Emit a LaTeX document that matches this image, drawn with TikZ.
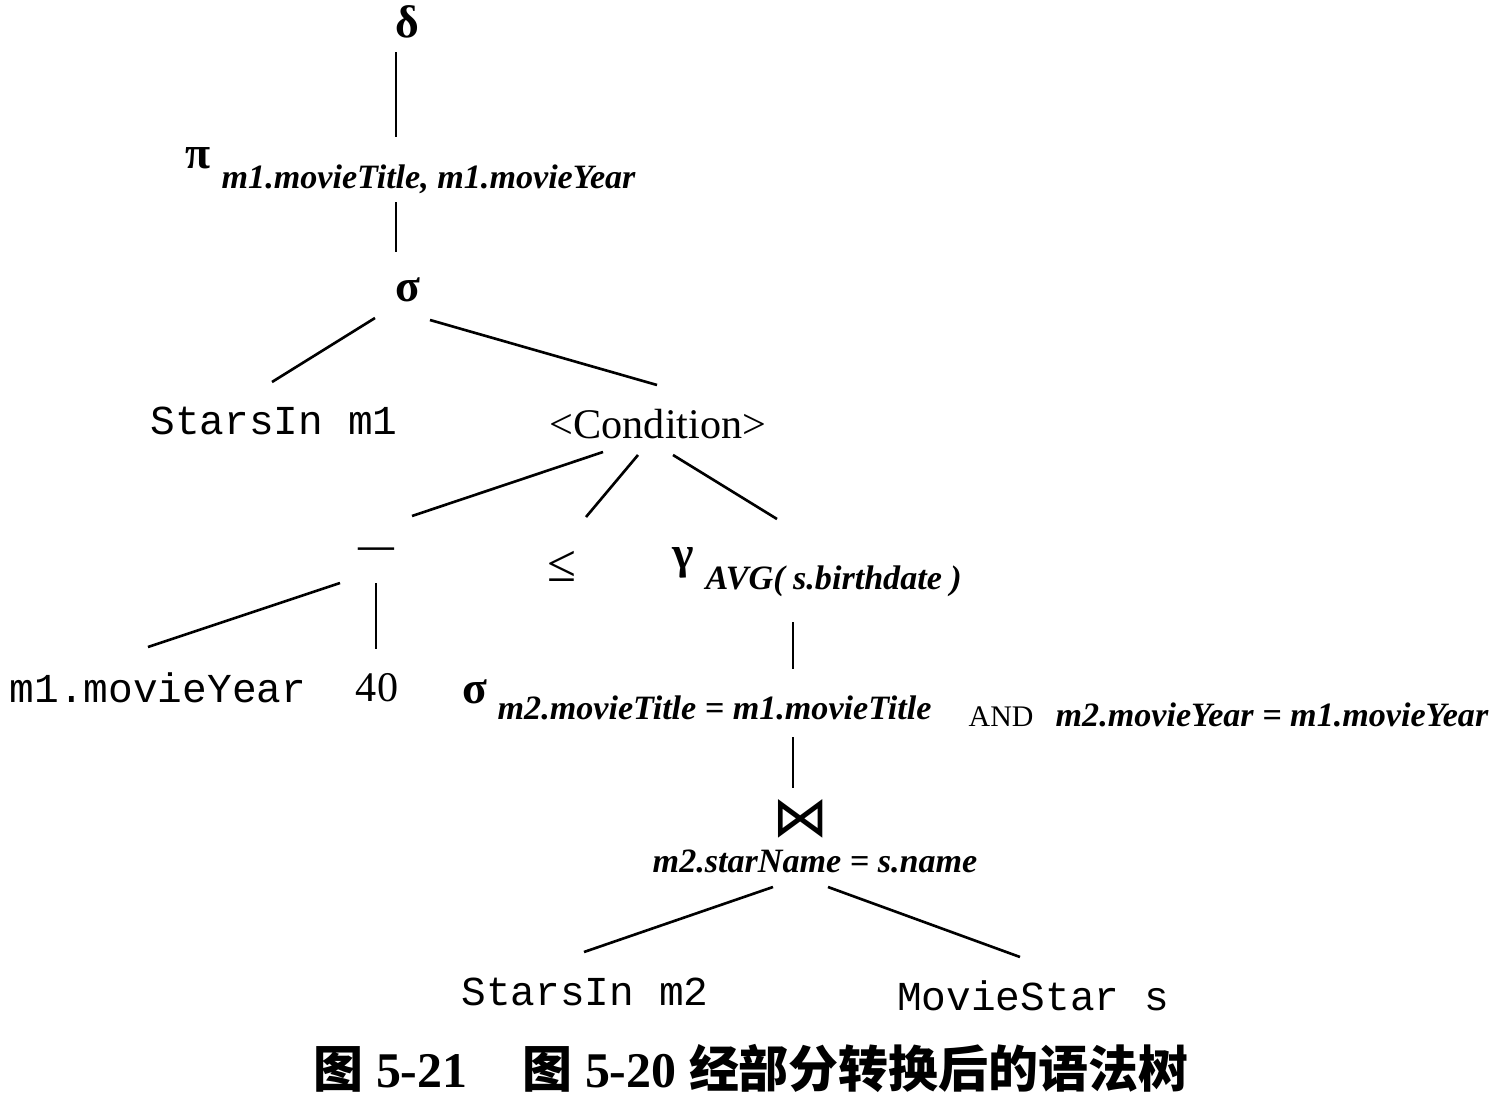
\documentclass[tikz,border=0pt]{standalone}
\usepackage{fontspec}
\setmainfont{Liberation Serif}
\setmonofont{Liberation Mono}
\newfontfamily\cjk{Noto Sans CJK SC}
\newfontfamily\djv{DejaVu Sans}
\usetikzlibrary{calc}

\begin{document}
\begin{tikzpicture}[x=0.01cm, y=-0.01cm,
	rel/.style={inner sep=0, font=\fontsize{11.7}{14}\selectfont\ttfamily},
	op/.style={inner sep=0, font=\fontsize{13}{15}\selectfont\bfseries},
	sub/.style={inner sep=0, anchor=base west, font=\fontsize{9.7}{12}\selectfont\bfseries\itshape},
	txt/.style={inner sep=0, font=\fontsize{12}{14}\selectfont},
	edge/.style={line width=0.75pt}]
	\useasboundingbox (0,0) rectangle (1502,1100);

	% upper part of the tree
	\node[op] (delta) at (407,22) {δ};
	\node[op] (pi) at (198,158) {π};
	\node[sub] (piSub) at (221,188) {m1.movieTitle, m1.movieYear};
	\node[op] (sigma) at (408,290) {σ};
	\node[rel] (sA) at (274,421) {StarsIn m1};
	\node[txt] (cond) at (658,424) {<Condition>};

	% the condition
	\node[txt, anchor=base, font=\fontsize{10.2}{12}\selectfont\bfseries] (minus) at (376,557) {—};
	\node[txt, font=\fontsize{15}{17}\selectfont] (leq) at (562,566) {≤};
	\node[op] (gamma) at (683,563) {γ};
	\node[sub] (gammaSub) at (705,589) {AVG( s.birthdate )};
	\node[rel] (m1y) at (158,688) {m1.movieYear};
	\node[txt] (forty) at (377,688) {40};
	\node[op] (sigmaB) at (475,692) {σ};
	\node[sub] (sigmaBSub) at (497,719) {m2.movieTitle = m1.movieTitle};
	\node[txt, anchor=base west, font=\fontsize{8.5}{10}\selectfont] (and) at (968,726) {AND};
	\node[sub] (yearSub) at (1055,726) {m2.movieYear = m1.movieYear};
	\node[txt, font=\fontsize{16}{18}\selectfont\djv] (join) at (801,819) {⋈};
	\node[sub, anchor=base] (joinSub) at (815,872) {m2.starName = s.name};
	\node[rel] (sB) at (585,992) {StarsIn m2};
	\node[rel] (ms) at (1033,996) {MovieStar s};

	\node[txt, font=\fontsize{14.2}{16}\selectfont\bfseries] (caption) at (751,1068)
		{{\cjk 图} 5-21\hspace{0.55cm}{\cjk 图} 5-20 {\cjk 经部分转换后的语法树}};

	% edges
	\draw[edge] ($(delta)+(-11,30)$) -- ($(piSub.base west)+(175,-51)$);
	\draw[edge] ($(piSub.base west)+(175,14)$) -- ($(sigma)+(-12,-38)$);
	\draw[edge] ($(sigma)+(-33,28)$) -- ($(sA)+(-2,-39)$);
	\draw[edge] ($(sigma)+(22,30)$) -- ($(cond)+(-1,-39)$);
	\draw[edge] ($(cond)+(-55,28)$) -- ($(minus.base)+(36,-41)$);
	\draw[edge] ($(cond)+(-20,31)$) -- ($(leq)+(24,-49)$);
	\draw[edge] ($(cond)+(15,31)$) -- ($(gamma)+(94,-44)$);
	\draw[edge] ($(minus.base)+(-36,26)$) -- ($(m1y)+(-10,-41)$);
	\draw[edge] ($(minus.base)+(0,26)$) -- ($(forty)+(-1,-39)$);
	\draw[edge] ($(gammaSub.base west)+(88,33)$) -- ($(sigmaBSub.base west)+(296,-50)$);
	\draw[edge] ($(sigmaBSub.base west)+(296,18)$) -- ($(join)+(-8,-31)$);
	\draw[edge] ($(joinSub.base)+(-42,15)$) -- ($(sB)+(-1,-40)$);
	\draw[edge] ($(joinSub.base)+(13,15)$) -- ($(ms)+(-13,-39)$);
\end{tikzpicture}
\end{document}
